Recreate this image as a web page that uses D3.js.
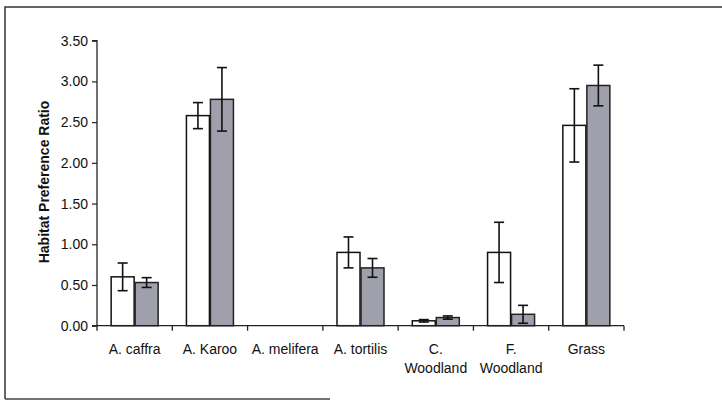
<!DOCTYPE html>
<html><head><meta charset="utf-8">
<script src="https://cdn.jsdelivr.net/npm/d3@7"></script>
<style>body{margin:0;background:#fff;} svg{display:block;}</style>
</head><body>
<script>
const categories = [["A. caffra"],["A. Karoo"],["A. melifera"],["A. tortilis"],["C.","Woodland"],["F.","Woodland"],["Grass"]];
const whiteValues = [0.60, 2.58, 0.00, 0.90, 0.06, 0.90, 2.46];
const whiteErrors = [0.17, 0.16, 0.00, 0.19, 0.015, 0.37, 0.45];
const greyValues  = [0.53, 2.78, 0.00, 0.71, 0.10, 0.14, 2.95];
const greyErrors  = [0.06, 0.39, 0.00, 0.115, 0.02, 0.11, 0.25];
const yTicks = [0, 0.5, 1, 1.5, 2, 2.5, 3, 3.5];

const W = 722, H = 401;
const FONT = "Liberation Sans, Arial, sans-serif";
const svg = d3.select("body").append("svg").attr("width", W).attr("height", H);

// frame
svg.append("path").attr("d","M5,399 L5,7 L722,7").attr("fill","none").attr("stroke","#333").attr("stroke-width",1.5);
svg.append("line").attr("x1",5).attr("x2",330).attr("y1",399).attr("y2",399).attr("stroke","#444").attr("stroke-width",1.5);

const x0 = 97, x1 = 624, yTop = 40.7, yBot = 325.7;
const idx = d3.range(categories.length);
const x = d3.scaleBand().domain(idx).range([x0, x1]).padding(0);
const y = d3.scaleLinear().domain([0, 3.5]).range([yBot, yTop]);

// y axis
const yAxis = svg.append("g").attr("transform", `translate(${x0},0)`)
  .call(d3.axisLeft(y).tickValues(yTicks).tickFormat(d3.format(".2f")).tickSize(5).tickPadding(4));
yAxis.select(".domain").attr("stroke","#222").attr("stroke-width",1.3).attr("d", `M-5,${y(3.5)}H0V${y(0)}H-5`);
yAxis.selectAll(".tick line").attr("stroke","#222").attr("stroke-width",1.2);
yAxis.selectAll("text").attr("font-family",FONT).attr("font-size",14).attr("fill","#111");

// bars
const bw = 23;
const g = svg.append("g");
const cx = i => x(i) + x.bandwidth()/2;
g.selectAll("rect.w").data(idx).join("rect").attr("class","w")
  .attr("x", i => cx(i) - bw - 0.5).attr("width", bw)
  .attr("y", i => y(whiteValues[i])).attr("height", i => y(0) - y(whiteValues[i]))
  .attr("fill","#fff").attr("stroke","#111").attr("stroke-width",1.5);
g.selectAll("rect.g").data(idx).join("rect").attr("class","g")
  .attr("x", i => cx(i) + 0.5).attr("width", bw)
  .attr("y", i => y(greyValues[i])).attr("height", i => y(0) - y(greyValues[i]))
  .attr("fill","#a0a0ad").attr("stroke","#222").attr("stroke-width",1.5);

// error bars
function errBars(vals, errs, off) {
  idx.forEach(i => {
    if (errs[i] <= 0) return;
    const xc = cx(i) + off;
    const lo = y(vals[i] - errs[i]), hi = y(vals[i] + errs[i]);
    const eg = g.append("g").attr("stroke","#111").attr("stroke-width",1.6);
    eg.append("line").attr("x1",xc).attr("x2",xc).attr("y1",lo).attr("y2",hi);
    eg.append("line").attr("x1",xc-5).attr("x2",xc+5).attr("y1",lo).attr("y2",lo);
    eg.append("line").attr("x1",xc-5).attr("x2",xc+5).attr("y1",hi).attr("y2",hi);
  });
}
errBars(whiteValues, whiteErrors, -bw/2 - 0.5);
errBars(greyValues, greyErrors, bw/2 + 0.5);

// x axis
const xb = svg.append("g").attr("stroke","#222").attr("stroke-width",1.3);
xb.append("line").attr("x1",x0-5).attr("x2",x1).attr("y1",yBot).attr("y2",yBot);
const bounds = idx.map(i => x(i)).concat([x1]);
xb.selectAll("line.t").data(bounds).join("line").attr("class","t")
  .attr("x1",d=>d).attr("x2",d=>d).attr("y1",yBot).attr("y2",yBot+5);

// category labels
const lab = svg.append("g").attr("font-family",FONT).attr("font-size",14).attr("fill","#111").attr("text-anchor","middle");
idx.forEach(i => {
  const t = lab.append("text").attr("x", cx(i)).attr("y", 354);
  categories[i].forEach((s, k) => t.append("tspan").attr("x", cx(i)).attr("dy", k ? 19 : 0).text(s));
});

// y title
svg.append("text").attr("transform", `translate(49,${182}) rotate(-90)`)
  .attr("text-anchor","middle").attr("font-family",FONT)
  .attr("font-size",14).attr("font-weight","bold").attr("fill","#111").text("Habitat Preference Ratio");
</script>
</body></html>
